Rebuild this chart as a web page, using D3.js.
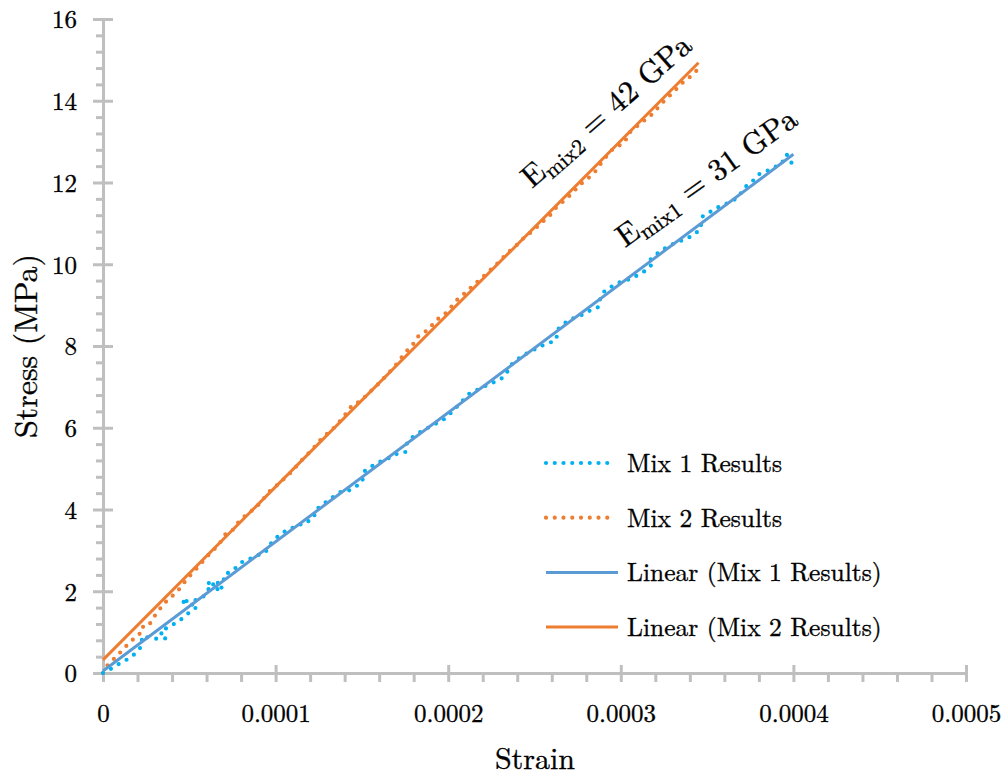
<!DOCTYPE html>
<html>
<head>
<meta charset="utf-8">
<script src="https://cdn.jsdelivr.net/npm/d3@7"></script>
</head>
<body style="margin:0; background:#fff">
<svg id="chart" width="1004" height="779"></svg>
<script>
// Mix 1 measured points (strain, stress in MPa)
const strain1 = [0, 0.41e-5, 0.83e-5, 1.27e-5, 1.7e-5, 2.05e-5, 2.28e-5, 2.24e-5, 2.6e-5, 3.0e-5,
  3.4e-5, 3.7e-5, 3.3e-5, 3.88e-5, 4.3e-5, 4.7e-5, 5.1e-5, 5.5e-5, 4.5e-5, 5.0e-5,
  5.6e-5, 5.9e-5, 6.1e-5, 6.6e-5, 7.0e-5, 6.6e-5, 6.0e-5, 6.6e-5, 7.0e-5, 7.0e-5,
  7.4e-5, 7.65e-5, 8.13e-5, 8.56e-5, 8.94e-5, 9.39e-5, 9.77e-5, 10.2e-5, 10.83e-5, 11.32e-5,
  11.6e-5, 12.0e-5, 12.24e-5, 12.32e-5, 13.0e-5, 13.77e-5, 14.27e-5, 14.99e-5, 15.18e-5, 15.85e-5,
  16.63e-5, 17.07e-5, 17.55e-5, 17.63e-5, 18.08e-5, 18.6e-5, 19.2e-5, 19.8e-5, 20.3e-5, 20.7e-5,
  21.17e-5, 21.65e-5, 22.03e-5, 22.9e-5, 23.29e-5, 23.62e-5, 24.26e-5, 24.74e-5, 25.5e-5, 26.0e-5,
  26.28e-5, 26.3e-5, 26.96e-5, 27.45e-5, 27.93e-5, 28.3e-5, 28.75e-5, 28.8e-5, 29.08e-5, 29.53e-5,
  29.99e-5, 30.49e-5, 30.92e-5, 31.5e-5, 31.79e-5, 31.6e-5, 32.17e-5, 32.6e-5, 33.04e-5, 33.9e-5,
  34.3e-5, 34.59e-5, 34.74e-5, 35.17e-5, 35.56e-5, 36.04e-5, 36.48e-5, 36.81e-5, 37.2e-5, 37.49e-5,
  38.06e-5, 38.55e-5, 39.32e-5, 39.6e-5, 39.8e-5, 39.9e-5];
const stress1 = [0, 0.09, 0.2, 0.3, 0.41, 0.56, 0.68, 0.89, 0.87, 0.84,
  0.84, 0.85, 1.0, 1.15, 1.24, 1.37, 1.52, 1.63, 1.76, 1.76,
  1.8, 1.9, 2.05, 2.05, 2.06, 2.15, 2.2, 2.2, 2.22, 2.4,
  2.48, 2.56, 2.74, 2.8, 2.88, 2.94, 3.19, 3.37, 3.54, 3.58,
  3.7, 3.72, 3.84, 3.99, 4.21, 4.43, 4.47, 4.65, 4.95, 5.13,
  5.27, 5.37, 5.41, 5.66, 5.82, 5.95, 6.08, 6.22, 6.42, 6.6,
  6.82, 6.92, 7.0, 7.16, 7.26, 7.53, 7.75, 7.86, 8.02, 8.1,
  8.16, 8.39, 8.63, 8.71, 8.79, 8.89, 8.96, 9.16, 9.36, 9.47,
  9.57, 9.63, 9.72, 9.86, 9.99, 10.07, 10.28, 10.4, 10.5, 10.64,
  10.76, 10.83, 11.17, 11.28, 11.38, 11.47, 11.55, 11.65, 11.89, 11.97,
  12.22, 12.3, 12.46, 12.69, 12.58, 12.47];

// Mix 2 measured points
const strain2 = [0, 0.21e-5, 0.6e-5, 0.95e-5, 1.27e-5, 1.66e-5, 2.05e-5, 2.38e-5, 2.3e-5, 2.72e-5,
  3.0e-5, 3.26e-5, 3.49e-5, 3.84e-5, 4.17e-5, 4.46e-5, 4.81e-5, 5.08e-5, 5.43e-5, 5.72e-5,
  6.1e-5, 6.5e-5, 6.8e-5, 7.13e-5, 7.55e-5, 7.78e-5, 8.13e-5, 8.5e-5, 8.81e-5, 9.1e-5,
  9.39e-5, 9.68e-5, 10.02e-5, 10.35e-5, 10.7e-5, 10.99e-5, 11.32e-5, 11.61e-5, 11.95e-5, 12.2e-5,
  12.48e-5, 12.8e-5, 13.15e-5, 13.5e-5, 13.96e-5, 14.47e-5, 14.9e-5, 15.4e-5, 15.9e-5, 16.4e-5,
  16.9e-5, 17.55e-5, 17.9e-5, 18.21e-5, 18.56e-5, 18.9e-5, 19.14e-5, 19.43e-5, 19.8e-5, 20.1e-5,
  20.64e-5, 21.0e-5, 21.36e-5, 21.9e-5, 22.42e-5, 22.9e-5, 23.39e-5, 23.9e-5, 24.35e-5, 24.9e-5,
  25.3e-5, 25.6e-5, 26.0e-5, 26.19e-5, 26.7e-5, 27.06e-5, 27.25e-5, 27.64e-5, 28.1e-5, 28.5e-5,
  28.99e-5, 29.47e-5, 29.9e-5, 30.24e-5, 30.44e-5, 30.8e-5, 31.11e-5, 31.5e-5, 31.84e-5, 32.4e-5,
  33.04e-5, 33.62e-5, 34.0e-5, 34.4e-5];
const stress2 = [0, 0.17, 0.33, 0.48, 0.63, 0.79, 0.93, 1.07, 1.15, 1.21,
  1.4, 1.54, 1.7, 1.8, 1.95, 2.07, 2.27, 2.4, 2.56, 2.7,
  2.88, 3.05, 3.2, 3.42, 3.51, 3.66, 3.81, 3.92, 4.05, 4.15,
  4.31, 4.46, 4.57, 4.7, 4.82, 4.96, 5.11, 5.25, 5.39, 5.5,
  5.66, 5.78, 5.92, 6.04, 6.28, 6.57, 6.64, 6.85, 7.05, 7.27,
  7.5, 7.86, 8.0, 8.22, 8.32, 8.42, 8.55, 8.67, 8.78, 8.92,
  9.19, 9.3, 9.45, 9.65, 9.85, 10.04, 10.26, 10.44, 10.63, 10.82,
  10.97, 11.09, 11.24, 11.36, 11.55, 11.69, 11.77, 11.95, 12.1, 12.26,
  12.55, 12.79, 12.9, 12.99, 13.2, 13.32, 13.44, 13.56, 13.68, 13.95,
  14.21, 14.46, 14.58, 14.74];

// linear trendline end points
const trendStrain1 = [0, 40e-5];
const trendStress1 = [0.05, 12.69];
const trendStrain2 = [0, 34.5e-5];
const trendStress2 = [0.32, 14.93];

const xMajor = [0, 0.0001, 0.0002, 0.0003, 0.0004, 0.0005];
const xLabels = ['0', '0.0001', '0.0002', '0.0003', '0.0004', '0.0005'];
const yMajor = [0, 2, 4, 6, 8, 10, 12, 14, 16];

const legendNames = ['Mix 1 Results', 'Mix 2 Results', 'Linear (Mix 1 Results)', 'Linear (Mix 2 Results)'];

const FONT = '"Latin Modern Roman", "CMU Serif", "Liberation Serif", serif';
const axisGrey = '#bfbfbf';
const mix1Col = '#00b0f0';
const mix2Col = '#ed7d31';
const trend1Col = '#5b9bd5';
const trend2Col = '#ed7d31';

const svg = d3.select('#chart').attr('font-family', FONT);

const x = d3.scaleLinear().domain([0, 0.0005]).range([103, 966]);
const y = d3.scaleLinear().domain([0, 16]).range([673, 19]);

// minor ticks
const xMinor = d3.range(0, 26).map(i => i * 0.00002).filter(v => !xMajor.some(m => Math.abs(m - v) < 1e-9));
const yMinor = d3.range(0, 41).map(i => i * 0.4).filter(v => !yMajor.some(m => Math.abs(m - v) < 1e-6));

const axes = svg.append('g');

// x axis
const gx = axes.append('g').attr('transform', `translate(0,${y(0)})`)
  .call(d3.axisBottom(x).tickValues(xMajor).tickSize(9).tickSizeOuter(0)
    .tickFormat((d, i) => xLabels[i]));
gx.select('.domain').attr('stroke', axisGrey).attr('stroke-width', 3);
gx.selectAll('.tick line').attr('stroke', axisGrey).attr('stroke-width', 3).attr('y1', -8);
gx.selectAll('.tick text').attr('font-size', 25).attr('y', 49).attr('dy', 0);

const gxm = axes.append('g').attr('transform', `translate(0,${y(0)})`)
  .call(d3.axisBottom(x).tickValues(xMinor).tickSize(9).tickFormat(''));
gxm.select('.domain').remove();
gxm.selectAll('.tick line').attr('stroke', axisGrey).attr('stroke-width', 3);

// y axis
const gy = axes.append('g').attr('transform', `translate(${x(0)},0)`)
  .call(d3.axisLeft(y).tickValues(yMajor).tickSize(10).tickSizeOuter(0));
gy.select('.domain').attr('stroke', axisGrey).attr('stroke-width', 3);
gy.selectAll('.tick line').attr('stroke', axisGrey).attr('stroke-width', 3).attr('x1', 10);
gy.selectAll('.tick text').attr('font-size', 25).attr('x', -26).attr('dy', '0.35em');

const gym = axes.append('g').attr('transform', `translate(${x(0)},0)`)
  .call(d3.axisLeft(y).tickValues(yMinor).tickSize(7).tickFormat(''));
gym.select('.domain').remove();
gym.selectAll('.tick line').attr('stroke', axisGrey).attr('stroke-width', 3);

axes.selectAll('g').attr('font-family', FONT);

// axis titles
svg.append('text').attr('x', 535).attr('y', 769).attr('text-anchor', 'middle')
  .attr('font-size', 30).text('Strain');
svg.append('text').attr('transform', 'translate(37,346) rotate(-90)').attr('text-anchor', 'middle')
  .attr('font-size', 32).text('Stress (MPa)');

// series
const line = d3.line().x(d => x(d[0])).y(d => y(d[1]));
const pts1 = strain1.map((s, i) => [s, stress1[i]]);
const pts2 = strain2.map((s, i) => [s, stress2[i]]);
const tr1 = trendStrain1.map((s, i) => [s, trendStress1[i]]);
const tr2 = trendStrain2.map((s, i) => [s, trendStress2[i]]);

const plot = svg.append('g');
plot.append('path').datum(pts2).attr('d', line).attr('fill', 'none')
  .attr('stroke', mix2Col).attr('stroke-width', 4.2).attr('stroke-linecap', 'round')
  .attr('stroke-dasharray', '0 9');
plot.append('path').datum(pts1).attr('d', line).attr('fill', 'none')
  .attr('stroke', mix1Col).attr('stroke-width', 4.2).attr('stroke-linecap', 'round')
  .attr('stroke-dasharray', '0 9');
plot.append('path').datum(tr1).attr('d', line).attr('fill', 'none')
  .attr('stroke', trend1Col).attr('stroke-width', 3);
plot.append('path').datum(tr2).attr('d', line).attr('fill', 'none')
  .attr('stroke', trend2Col).attr('stroke-width', 3);

// annotations
function modulusLabel(px, py, angle, sub, val) {
  const t = svg.append('text').attr('transform', `translate(${px},${py}) rotate(${angle})`)
    .attr('font-size', 31);
  t.append('tspan').text('E');
  t.append('tspan').attr('font-size', 22).attr('dy', 6).text(sub);
  t.append('tspan').attr('dy', -6).text(' = ' + val + ' GPa');
}
modulusLabel(532, 189, -41, 'mix2', 42);
modulusLabel(625, 248, -35.5, 'mix1', 31);

// legend
const legend = svg.append('g');
const legStyles = [
  { col: mix1Col, dash: '0 8.75', w: 4.2 },
  { col: mix2Col, dash: '0 8.75', w: 4.2 },
  { col: trend1Col, dash: null, w: 3 },
  { col: trend2Col, dash: null, w: 3 }
];
legendNames.forEach((name, i) => {
  const by = 472 + i * 54.7;
  const st = legStyles[i];
  legend.append('line').attr('x1', 546).attr('x2', st.dash ? 616 : 618)
    .attr('y1', by - 9).attr('y2', by - 9)
    .attr('stroke', st.col).attr('stroke-width', st.w)
    .attr('stroke-linecap', st.dash ? 'round' : 'butt')
    .attr('stroke-dasharray', st.dash);
  legend.append('text').attr('x', 627).attr('y', by).attr('font-size', 25.5).text(name);
});

// the reference glyphs are a touch heavier than Latin Modern at this size
svg.selectAll('text').attr('stroke', '#000').attr('stroke-width', 0.35);
</script>
</body>
</html>
